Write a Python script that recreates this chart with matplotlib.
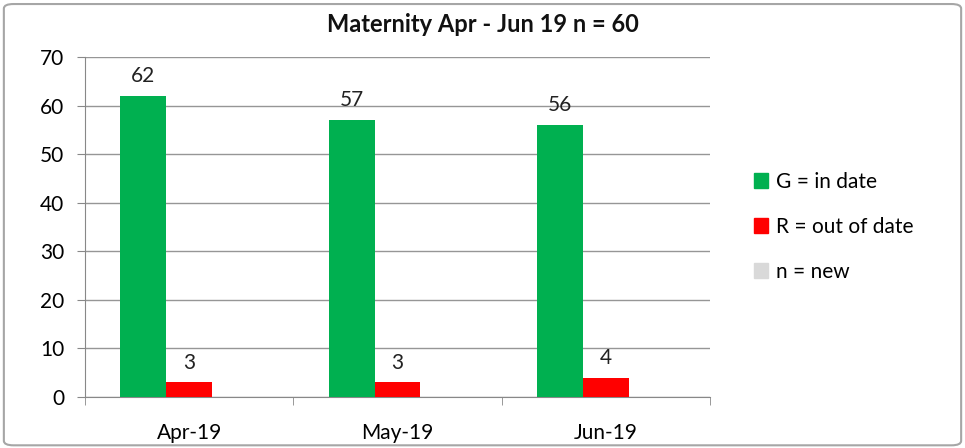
import matplotlib.pyplot as plt
import numpy as np
from matplotlib.patches import FancyBboxPatch, Patch

plt.rcParams['font.family'] = ['Lato', 'DejaVu Sans']

months = ["Apr-19", "May-19", "Jun-19"]
in_date = [62, 57, 56]
out_of_date = [3, 3, 4]
new = [0, 0, 0]

green = "#00b050"
red = "#ff0000"
grey = "#d9d9d9"

fig = plt.figure(figsize=(9.65, 4.48), dpi=100)
ax = fig.add_axes([85 / 965, 51 / 448, 625 / 965, 340 / 448])

# rounded outer frame like an Excel chart area
frame = FancyBboxPatch((0.004, 0.006), 0.992, 0.985, boxstyle="round,pad=0,rounding_size=0.01",
                       transform=fig.transFigure, fill=False, edgecolor="#a6a6a6", linewidth=1.5)
fig.patches.append(frame)

x = np.arange(len(months))
w = 0.22
b1 = ax.bar(x - w, in_date, w, color=green, zorder=3)
b2 = ax.bar(x, out_of_date, w, color=red, zorder=3)
b3 = ax.bar(x + w, new, w, color=grey, zorder=3)

for bars, vals in ((b1, in_date), (b2, out_of_date)):
    for r, v in zip(bars, vals):
        ax.text(r.get_x() + r.get_width() / 2, v + 2.0, str(v), ha="center", va="bottom",
                fontsize=15, color="#222222")

ax.set_xlim(-0.5, 2.5)
ax.set_ylim(0, 70)
ax.set_yticks(range(0, 71, 10))
ax.set_xticks(x)
ax.set_xticklabels(months)
ax.set_xticks([-0.5, 0.5, 1.5, 2.5], minor=True)
ax.tick_params(axis="x", which="major", length=0, pad=19, labelsize=15)
ax.tick_params(axis="x", which="minor", length=6, color="#888888")
ax.tick_params(axis="y", length=6, color="#888888", labelsize=15, pad=9)
ax.grid(axis="y", color="#969696", linewidth=1, zorder=0)
for s in ("top", "right"):
    ax.spines[s].set_visible(False)
for s in ("left", "bottom"):
    ax.spines[s].set_color("#888888")

fig.text(0.5, 0.945, "Maternity Apr - Jun 19 n = 60", ha="center", va="center",
         fontsize=17, fontweight="bold", color="#111111")

handles = [Patch(color=green), Patch(color=red), Patch(color=grey)]
labels = ["G = in date", "R = out of date", "n = new"]
fig.legend(handles, labels, loc="upper left", bbox_to_anchor=(735 / 965, 1 - 153 / 448), frameon=False,
           fontsize=15, handlelength=0.7, handleheight=0.7, handletextpad=0.35, labelspacing=1.2)

fig.savefig("out.png", dpi=100)
